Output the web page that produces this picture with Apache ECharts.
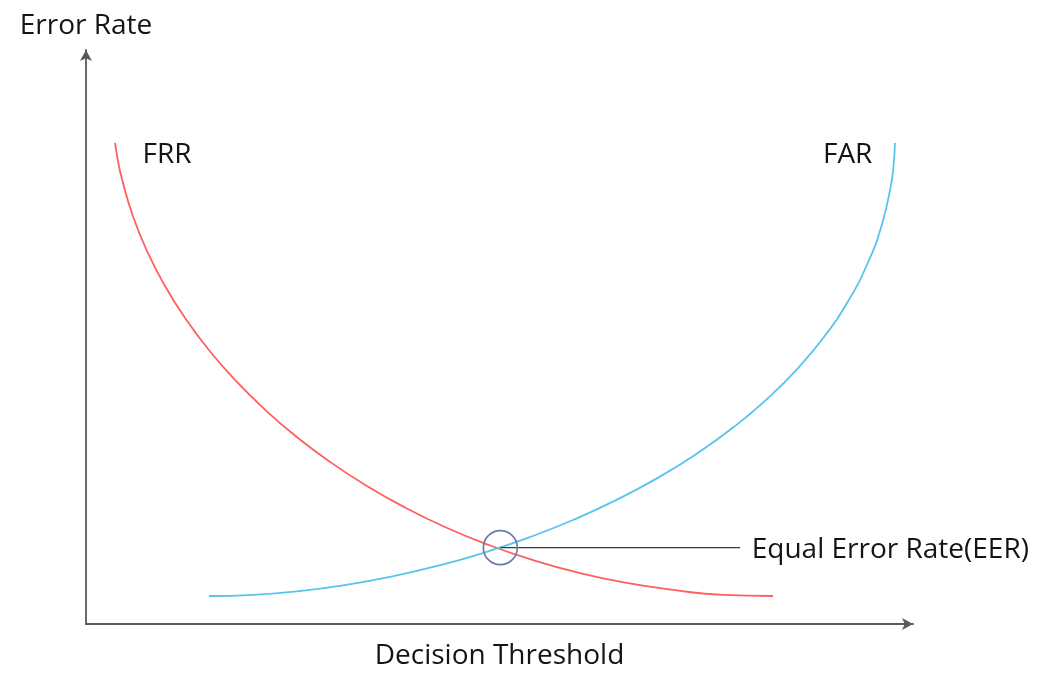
<!DOCTYPE html>
<html>
<head>
<meta charset="utf-8">
<script src="https://cdn.jsdelivr.net/npm/echarts@6/dist/echarts.min.js"></script>
<style>
html,body{margin:0;padding:0;background:#fff;overflow:hidden;}
#chart{width:1043px;height:677px;}
</style>
</head>
<body>
<div id="chart"></div>
<script>
// Decision threshold (x, 0-100) vs error rate (y, 0-100)
const frrX = [3.51, 3.88, 4.37, 5.66, 7.37, 9.48, 11.98, 14.83, 18.04, 21.57, 25.41, 29.55, 33.96, 38.63, 43.53, 48.66, 53.99, 59.51, 65.19, 71.03, 76.99, 83.07];
const frrY = [83.80, 80.58, 77.40, 71.13, 65.01, 59.07, 53.31, 47.77, 42.47, 37.43, 32.66, 28.20, 24.06, 20.26, 16.81, 13.79, 11.16, 8.95, 7.20, 5.93, 5.06, 4.88];
const farX = [14.87, 20.23, 25.72, 31.29, 36.91, 42.52, 48.10, 53.59, 58.96, 64.15, 69.14, 73.86, 78.29, 82.37, 86.08, 89.35, 92.16, 94.45, 96.19, 97.33, 97.66, 97.82];
const farY = [4.88, 5.09, 5.73, 6.78, 8.25, 10.13, 12.41, 15.09, 18.16, 21.62, 25.46, 29.68, 34.27, 39.23, 44.55, 50.22, 56.26, 62.63, 69.35, 76.41, 80.06, 83.80];
const eerPoint = [50.1, 13.3];
const eerLineEnd = [79.1, 13.3];
const curveLabels = [
  {name: 'FRR', pos: [9.8, 81.7]},
  {name: 'FAR', pos: [92.1, 81.7]}
];
const eerLabel = {name: 'Equal Error Rate(EER)', pos: [80.5, 12.9]};
const xName = 'Decision Threshold';
const yName = 'Error Rate';

const zip = (xs, ys) => xs.map((x, i) => [x, ys[i]]);
const FONT = '"Open Sans", "Noto Sans", sans-serif';
const TXT = '#141414';
const FS = 28;

const chart = echarts.init(document.getElementById('chart'), null, {renderer: 'canvas'});
chart.setOption({
  animation: false,
  backgroundColor: '#fff',
  grid: {left: 86, top: 50, right: 130, bottom: 53, containLabel: false, outerBoundsMode: 'none'},
  xAxis: {
    type: 'value', min: 0, max: 100,
    name: xName, nameLocation: 'middle', nameGap: 18,
    nameTextStyle: {fontFamily: FONT, fontSize: FS, color: TXT},
    axisLine: {show: true, symbol: ['none', 'arrow'], symbolSize: [9, 11],
      lineStyle: {color: '#5a5a5a', width: 1.8}},
    axisTick: {show: false}, axisLabel: {show: false}, splitLine: {show: false}
  },
  yAxis: {
    type: 'value', min: 0, max: 100,
    name: yName, nameLocation: 'end', nameGap: 10,
    nameTextStyle: {fontFamily: FONT, fontSize: FS, color: TXT, align: 'center'},
    axisLine: {show: true, symbol: ['none', 'arrow'], symbolSize: [9, 11],
      lineStyle: {color: '#5a5a5a', width: 1.8}},
    axisTick: {show: false}, axisLabel: {show: false}, splitLine: {show: false}
  },
  series: [
    {
      type: 'line', name: 'FRR', data: zip(frrX, frrY), smooth: 0.5, showSymbol: false,
      lineStyle: {color: '#ff5f5f', width: 1.8}, z: 3
    },
    {
      type: 'line', name: 'FAR', data: zip(farX, farY), smooth: 0.5, showSymbol: false,
      lineStyle: {color: '#55c4ef', width: 1.8}, z: 4
    },
    {
      type: 'line', name: 'EER pointer', data: [eerPoint, eerLineEnd], showSymbol: false,
      lineStyle: {color: '#3c3c3c', width: 1.3}, z: 5
    },
    {
      type: 'scatter', name: 'EER', data: [eerPoint], symbol: 'circle', symbolSize: 34,
      itemStyle: {color: 'rgba(0,0,0,0)', borderColor: '#6b78a8', borderWidth: 1.6, opacity: 1}, z: 6
    },
    {
      type: 'scatter', name: 'labels', symbolSize: 0, z: 7,
      itemStyle: {opacity: 1},
      data: curveLabels.map(l => ({value: l.pos, name: l.name})),
      label: {show: true, position: 'inside', formatter: p => p.name, opacity: 1,
        textBorderWidth: 0, fontFamily: FONT, fontSize: FS, color: TXT}
    },
    {
      type: 'scatter', name: 'eerLabel', symbolSize: 0, z: 7,
      itemStyle: {opacity: 1},
      data: [{value: eerLabel.pos, name: eerLabel.name}],
      label: {show: true, position: 'inside', align: 'left', formatter: p => p.name, opacity: 1,
        textBorderWidth: 0, fontFamily: FONT, fontSize: FS, color: TXT}
    }
  ]
});
</script>
</body>
</html>
